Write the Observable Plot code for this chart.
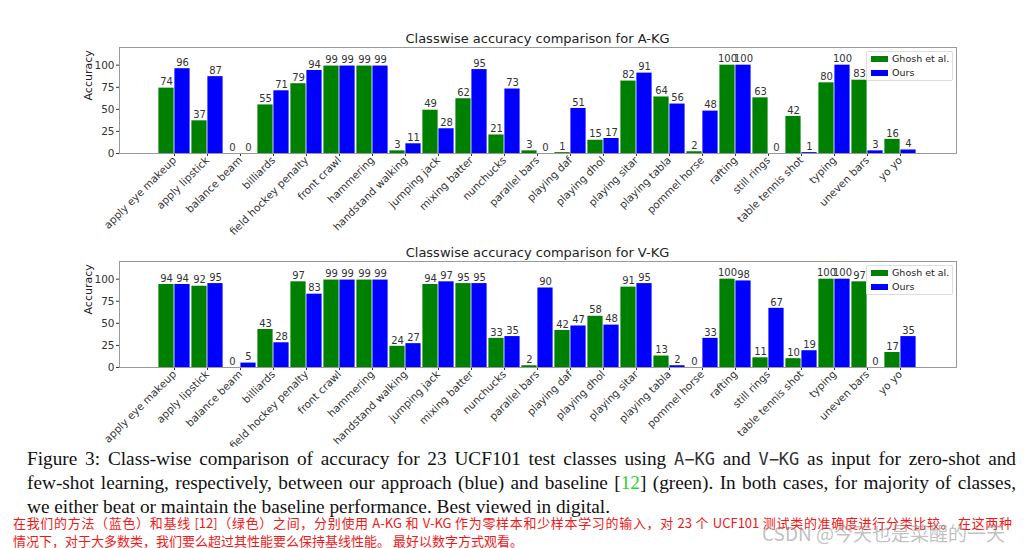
<!DOCTYPE html>
<html>
<head>
<meta charset="utf-8">
<script src="https://cdn.jsdelivr.net/npm/d3@7"></script>
<script src="https://cdn.jsdelivr.net/npm/@observablehq/plot@0.6"></script>
<style>
  html, body { margin: 0; padding: 0; background: #fff; }
  body { width: 1034px; height: 548px; position: relative; overflow: hidden; font-family: "DejaVu Sans", sans-serif; }
  .abs { position: absolute; }
  .title { left: 119px; width: 837px; text-align: center; font-size: 13px; color: #222; line-height: 16px; }
  .legend { left: 866px; width: 85px; height: 28px; border: 1px solid #ddd; border-radius: 2px; background: rgba(255,255,255,0.85); font-size: 9.5px; color: #222; }
  .legend .row { position: absolute; left: 4px; height: 12px; line-height: 12px; white-space: nowrap; }
  .legend .sw { display: inline-block; width: 17px; height: 6px; vertical-align: middle; margin-right: 4px; position: relative; top: -1px; }
  .caption { left: 27px; top: 447px; width: 989px; font-family: "Liberation Serif", serif; font-size: 19.3px; line-height: 24px; color: #111; background: #fff; z-index: 5; }
  .caption .j { text-align: justify; text-align-last: justify; }
  .mono { font-family: "DejaVu Sans Mono", monospace; font-size: 17px; color: #333; }
  .cn { left: 13px; width: 999px; font-family: "Noto Sans CJK SC", sans-serif; font-size: 13px; line-height: 17.5px; color: #f01818; z-index: 6; }
  .cn .j { text-align: justify; text-align-last: justify; }
  .wm { left: 762px; top: 519px; font-family: "Noto Sans CJK SC", sans-serif; font-size: 19px; color: rgba(140,140,140,0.55); z-index: 7; white-space: nowrap; }
</style>
</head>
<body>
<div id="root"></div>
<script>
const categories = ["apply eye makeup","apply lipstick","balance beam","billiards","field hockey penalty","front crawl","hammering","handstand walking","jumping jack","mixing batter","nunchucks","parallel bars","playing daf","playing dhol","playing sitar","playing tabla","pommel horse","rafting","still rings","table tennis shot","typing","uneven bars","yo yo"];
const seriesNames = ["Ghosh et al.", "Ours"];
const seriesColors = ["green", "blue"];
const akgGhosh = [74,37,0,55,79,99,99,3,49,62,21,3,1,15,82,64,2,100,63,42,80,83,16];
const akgOurs  = [96,87,0,71,94,99,99,11,28,95,73,0,51,17,91,56,48,100,0,1,100,3,4];
const vkgGhosh = [94,92,0,43,97,99,99,24,94,95,33,2,42,58,91,13,0,100,11,10,100,97,17];
const vkgOurs  = [94,95,5,28,83,99,99,27,97,95,35,90,47,48,95,2,33,98,67,19,100,0,35];
const yTicks = [0,25,50,75,100];
const titles = ["Classwise accuracy comparison for A-KG", "Classwise accuracy comparison for V-KG"];

function build(ghosh, ours, half) {
  const data = categories.map((c, i) => ({cls: c, g: ghosh[i], o: ours[i]}));
  return Plot.plot({
    width: 1034, height: 200,
    marginLeft: 119, marginRight: 78, marginTop: 7, marginBottom: 87,
    style: {fontFamily: "DejaVu Sans", fontSize: "10.5px", color: "#333", background: "transparent", overflow: "visible"},
    x: {domain: categories, paddingInner: 0.03, paddingOuter: 1.18, label: null, tickRotate: -45, tickSize: 3, tickPadding: 2},
    y: {domain: [0, 120], ticks: yTicks, label: null, tickSize: 3, tickPadding: 2},
    marks: [
      Plot.barY(data, {x: "cls", y: "g", fill: seriesColors[0], insetLeft: 0.4, insetRight: half + 0.4}),
      Plot.barY(data, {x: "cls", y: "o", fill: seriesColors[1], insetLeft: half + 0.4, insetRight: 0.4}),
      Plot.text(data, {x: "cls", y: "g", text: d => String(d.g), dx: -half / 2, dy: -6, fill: "#333", fontSize: 10}),
      Plot.text(data, {x: "cls", y: "o", text: d => String(d.o), dx: half / 2, dy: -6, fill: "#333", fontSize: 10}),
      Plot.frame({stroke: "#999"}),
      Plot.text(["Accuracy"], {frameAnchor: "left", text: d => d, rotate: -90, dx: -31, fontSize: 11, fill: "#222"})
    ]
  });
}

const root = document.getElementById("root");
const probe = build(akgGhosh, akgOurs, 0);
const half = probe.scale("x").bandwidth / 2;

const sets = [[akgGhosh, akgOurs], [vkgGhosh, vkgOurs]];
const svgTops = [40, 254];
const titleTops = [31, 245];
sets.forEach(([g, o], k) => {
  const t = document.createElement("div");
  t.className = "abs title";
  t.style.top = titleTops[k] + "px";
  t.textContent = titles[k];
  root.appendChild(t);

  const wrap = document.createElement("div");
  wrap.className = "abs";
  wrap.style.left = "0px";
  wrap.style.top = svgTops[k] + "px";
  wrap.appendChild(build(g, o, half));
  root.appendChild(wrap);

  const lg = document.createElement("div");
  lg.className = "abs legend";
  lg.style.top = (svgTops[k] + 11) + "px";
  seriesNames.forEach((n, i) => {
    const r = document.createElement("div");
    r.className = "row";
    r.style.top = (1 + i * 14) + "px";
    const sw = document.createElement("span");
    sw.className = "sw";
    sw.style.background = seriesColors[i];
    r.appendChild(sw);
    r.appendChild(document.createTextNode(n));
    lg.appendChild(r);
  });
  root.appendChild(lg);
});
</script>
<div class="abs caption">
  <div class="j">Figure 3: Class-wise comparison of accuracy for 23 UCF101 test classes using <span class="mono">A−KG</span> and <span class="mono">V−KG</span> as input for zero-shot and</div>
  <div class="j">few-shot learning, respectively, between our approach (blue) and baseline [<span style="color:#2fd02f">12</span>] (green). In both cases, for majority of classes,</div>
  <div>we either beat or maintain the baseline performance. Best viewed in digital.</div>
</div>
<div class="abs cn" style="top:514px">
  <div class="j">在我们的方法（蓝色）和基线 [12]（绿色）之间，分别使用 A-KG 和 V-KG 作为零样本和少样本学习的输入，对 23 个 UCF101 测试类的准确度进行分类比较。 在这两种</div>
  <div>情况下，对于大多数类，我们要么超过其性能要么保持基线性能。 最好以数字方式观看。</div>
</div>
<div class="abs wm">CSDN @今天也是菜醒的一天</div>
</body>
</html>
